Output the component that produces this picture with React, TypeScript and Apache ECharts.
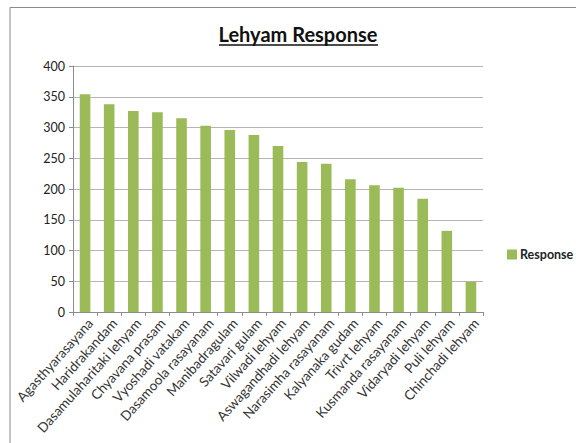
import React, { useEffect, useRef } from "react";
import * as echarts from "echarts";

const categories = [
  "Agasthyarasayana",
  "Haridrakandam",
  "Dasamulaharitaki lehyam",
  "Chyavana prasam",
  "Vyoshadi vatakam",
  "Dasamoola rasayanam",
  "Manibadragulam",
  "Satavari gulam",
  "Vilwadi lehyam",
  "Aswagandhadi lehyam",
  "Narasimha rasayanam",
  "Kalyanaka gudam",
  "Trivrt lehyam",
  "Kusmanda rasayanam",
  "Vidaryadi lehyam",
  "Puli lehyam",
  "Chinchadi lehyam",
];

const responseValues = [354, 338, 327, 325, 315, 303, 296, 288, 270, 244, 241, 216, 206, 202, 184, 132, 49];

const seriesName = "Response";
const chartTitle = "Lehyam Response";

const FONT = "Lato, 'Open Sans', 'DejaVu Sans', sans-serif";
const GREEN = "#9bbb59";

export default function App() {
  const ref = useRef<HTMLDivElement>(null);

  useEffect(() => {
    document.body.style.margin = "0";
    const chart = echarts.init(ref.current!, null, { renderer: "svg" });
    chart.setOption({
      animation: false,
      backgroundColor: "#ffffff",
      grid: { left: 73, right: 93, top: 66, bottom: 131, containLabel: false },
      legend: {
        data: [seriesName],
        orient: "vertical",
        left: 502,
        top: 243,
        itemWidth: 10,
        itemHeight: 10,
        itemGap: 4,
        icon: "rect",
        textStyle: { fontFamily: FONT, fontSize: 12.5, fontWeight: "bold", color: "#222", padding: [0, 0, 0, -2] },
      },
      xAxis: {
        type: "category",
        data: categories,
        boundaryGap: true,
        axisLine: { lineStyle: { color: "#8c8c8c", width: 1 } },
        axisTick: { show: true, alignWithLabel: false, length: 4, lineStyle: { color: "#8c8c8c" } },
        axisLabel: {
          interval: 0,
          rotate: 48,
          margin: 4,
          verticalAlign: "top",
          fontFamily: FONT,
          fontSize: 13.5,
          color: "#333",
        },
      },
      yAxis: {
        type: "value",
        min: 0,
        max: 400,
        interval: 50,
        axisLine: { show: true, lineStyle: { color: "#8c8c8c", width: 1 } },
        axisTick: { show: true, length: 4, lineStyle: { color: "#8c8c8c" } },
        axisLabel: { fontFamily: FONT, fontSize: 12.5, color: "#222", margin: 8 },
        splitLine: { lineStyle: { color: "#b5b5b5", width: 1 } },
      },
      series: [
        {
          name: seriesName,
          type: "bar",
          data: responseValues,
          barWidth: "44%",
          itemStyle: { color: GREEN },
        },
      ],
      graphic: [
        {
          type: "polyline",
          shape: { points: [[10, 443], [10, 7.5], [600, 7.5]] },
          style: { stroke: "#8a8a8a", lineWidth: 1, fill: "none" },
          silent: true,
        },
        {
          type: "text",
          x: 298,
          y: 34,
          style: {
            text: chartTitle,
            fontFamily: FONT,
            fontSize: 20,
            fontWeight: "bold",
            fill: "#111",
            align: "center",
            verticalAlign: "middle",
          },
        },
        {
          type: "line",
          shape: { x1: 219, y1: 45, x2: 378, y2: 45 },
          style: { stroke: "#111", lineWidth: 1.5 },
        },
      ],
    });
    return () => chart.dispose();
  }, []);

  return <div ref={ref} style={{ width: 576, height: 443 }} />;
}
